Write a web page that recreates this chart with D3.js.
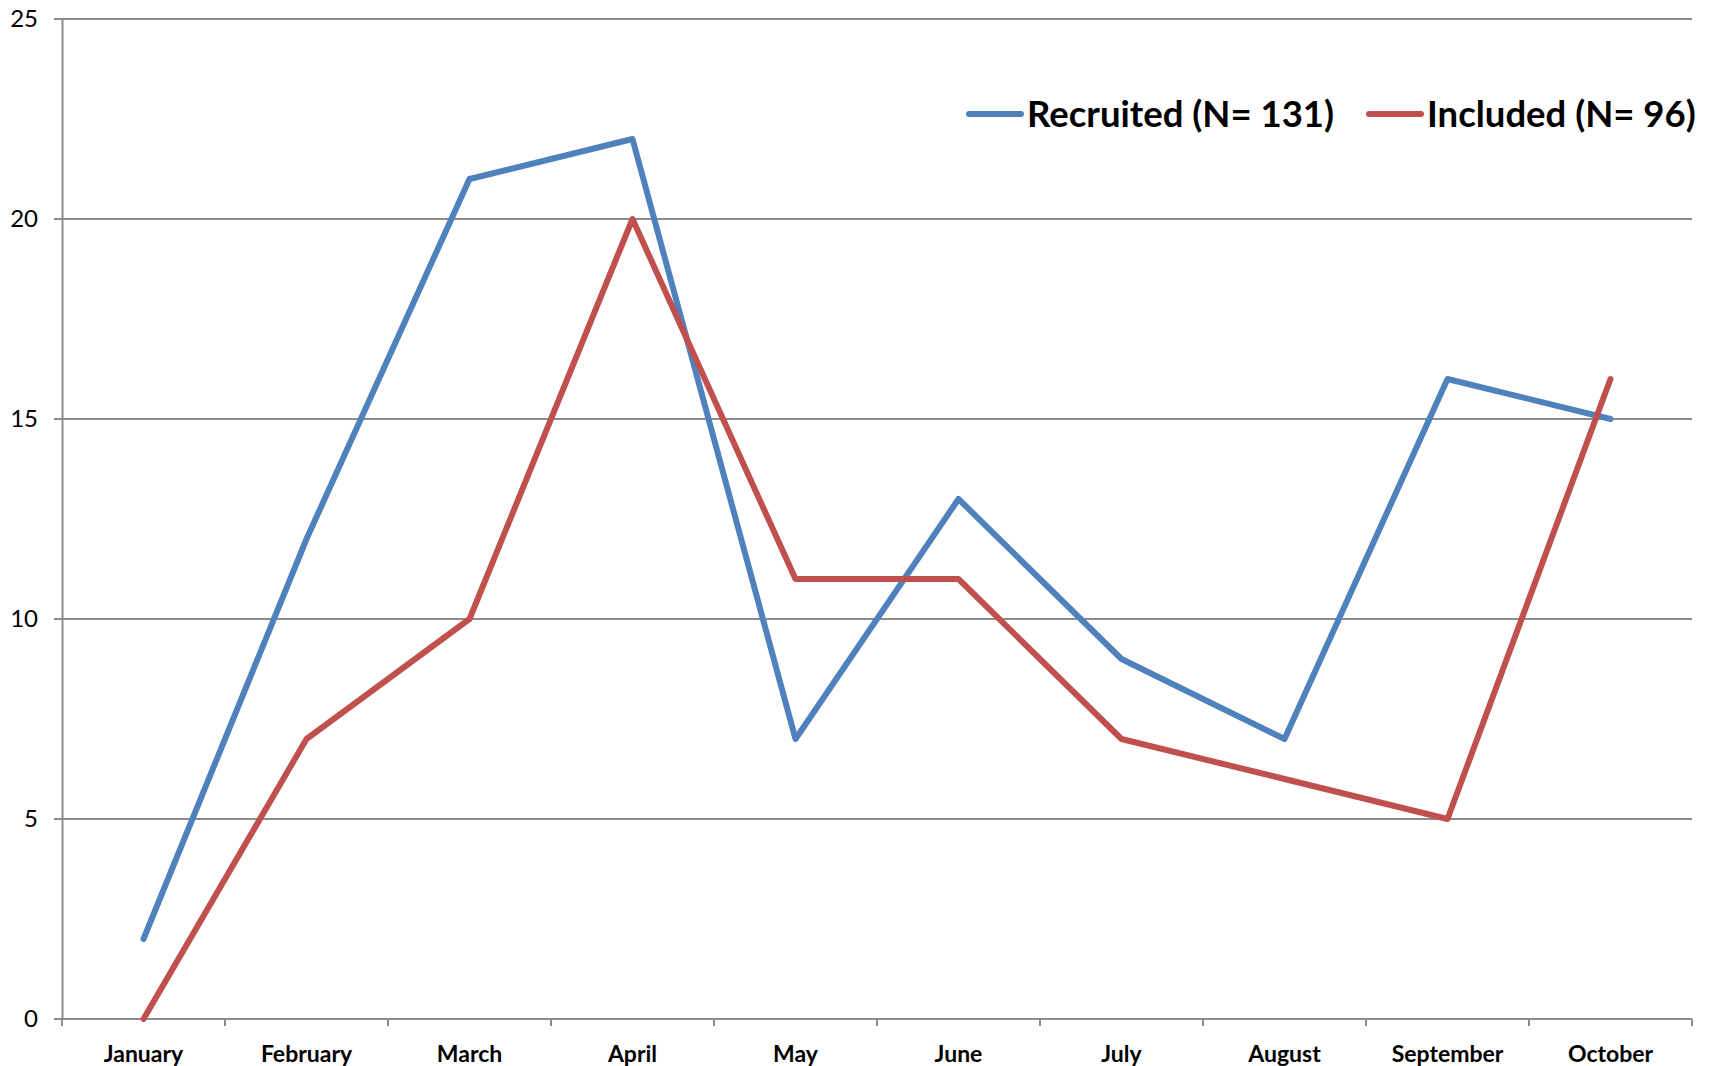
<!DOCTYPE html>
<html>
<head>
<meta charset="utf-8">
<script src="https://cdn.jsdelivr.net/npm/d3@7"></script>
<style>
  body { margin: 0; background: #fff; }
  svg { display: block; }
  svg text { font-family: Lato, "Open Sans", sans-serif; }
</style>
</head>
<body>
<svg id="chart"></svg>
<script>
const months = ["January", "February", "March", "April", "May", "June", "July", "August", "September", "October"];
const recruited = [2, 12, 21, 22, 7, 13, 9, 7, 16, 15];
const included = [0, 7, 10, 20, 11, 11, 7, 6, 5, 16];
const yTicks = [0, 5, 10, 15, 20, 25];
const seriesNames = ["Recruited (N= 131)", "Included (N= 96)"];
const colors = ["#4F81BD", "#C0504D"];

const W = 1713, H = 1066;
const margin = {top: 19, right: 21, bottom: 47, left: 62};
const width = W - margin.left - margin.right,
      height = H - margin.top - margin.bottom;

const svg = d3.select("#chart").attr("width", W).attr("height", H);
const g = svg.append("g").attr("transform", `translate(${margin.left},${margin.top})`);

const x = d3.scaleBand().domain(months).range([0, width]).padding(0);
const y = d3.scaleLinear().domain([0, 25]).range([height, 0]);

// gridlines
g.selectAll(".grid")
  .data(yTicks)
  .enter().append("line")
  .attr("x1", -8).attr("x2", width)
  .attr("y1", d => y(d)).attr("y2", d => y(d))
  .attr("stroke", "#8c8c8c").attr("stroke-width", 2);

// y axis
const yAxis = g.append("g")
  .call(d3.axisLeft(y).tickValues(yTicks).tickSize(0).tickPadding(24));
yAxis.attr("font-family", null);
yAxis.select(".domain").attr("stroke", "#8c8c8c").attr("stroke-width", 2);
yAxis.selectAll("text").attr("font-size", 24).attr("fill", "#000");

// x axis
const xAxis = g.append("g")
  .attr("transform", `translate(0,${height})`)
  .call(d3.axisBottom(x).tickSize(0).tickPadding(27));
xAxis.attr("font-family", null);
xAxis.select(".domain").remove();
xAxis.selectAll("text").attr("font-size", 23).attr("font-weight", "bold").attr("fill", "#000");
g.selectAll(".xtick")
  .data(d3.range(months.length + 1))
  .enter().append("line")
  .attr("x1", i => i * x.bandwidth()).attr("x2", i => i * x.bandwidth())
  .attr("y1", height).attr("y2", height + 7)
  .attr("stroke", "#8c8c8c").attr("stroke-width", 2);

const cx = d => x(d) + x.bandwidth() / 2;
const line = d3.line().x((d, i) => cx(months[i])).y(d => y(d));

[recruited, included].forEach((s, k) => {
  g.append("path")
    .datum(s)
    .attr("d", line)
    .attr("fill", "none")
    .attr("stroke", colors[k])
    .attr("stroke-width", 6)
    .attr("stroke-linejoin", "round")
    .attr("stroke-linecap", "round");
});

// legend
const legendX = [969, 1369];
const legend = svg.append("g");
seriesNames.forEach((name, k) => {
  legend.append("line")
    .attr("x1", legendX[k]).attr("x2", legendX[k] + 52)
    .attr("y1", 114).attr("y2", 114)
    .attr("stroke", colors[k]).attr("stroke-width", 6)
    .attr("stroke-linecap", "round");
  legend.append("text")
    .attr("x", legendX[k] + 58).attr("y", 114)
    .attr("dy", "0.35em")
    .attr("font-size", 36.5).attr("font-weight", "bold")
    .text(name);
});
</script>
</body>
</html>
